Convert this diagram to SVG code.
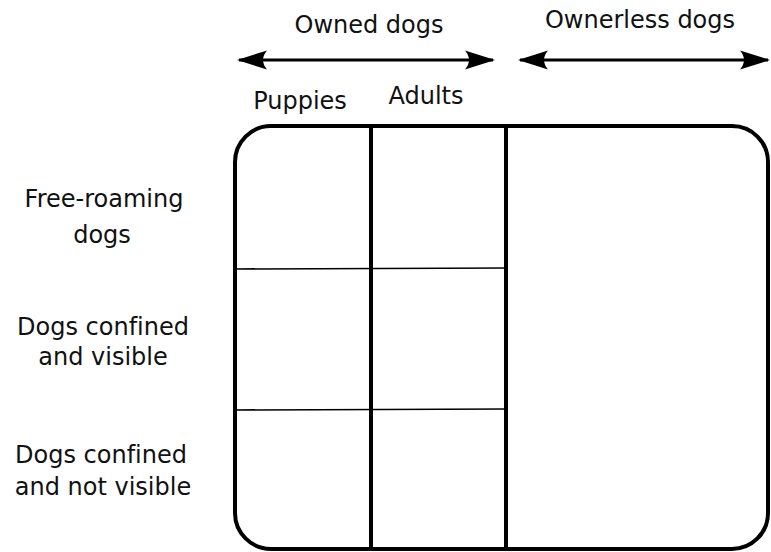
<svg xmlns="http://www.w3.org/2000/svg" width="771" height="552" viewBox="0 0 771 552">
  <style>
    text { font-family: "DejaVu Sans", Verdana, sans-serif; font-size: 24px; fill: #111; text-anchor: middle; font-variant-ligatures: none; }
    .frame { fill: none; stroke: #000; stroke-width: 4; }
    .col { stroke: #000; stroke-width: 4; }
    .row { stroke: #000; stroke-width: 1.6; }
    .span { stroke: #000; stroke-width: 3; fill: none; }
  </style>
  <defs>
    <marker id="head" viewBox="0 0 30 20" refX="28" refY="10" markerWidth="30" markerHeight="20" markerUnits="userSpaceOnUse" orient="auto-start-reverse">
      <path d="M30,10 L0,0.5 Q8,10 0,19.5 Z" fill="#000"/>
    </marker>
  </defs>

  <g id="connectors">
    <line class="span" x1="239" y1="60" x2="493" y2="60" marker-start="url(#head)" marker-end="url(#head)"/>
    <line class="span" x1="520" y1="60" x2="768" y2="60" marker-start="url(#head)" marker-end="url(#head)"/>
  </g>

  <g id="header-owned"><text x="369" y="33">Owned dogs</text></g>
  <g id="header-ownerless"><text x="640" y="28">Ownerless dogs</text></g>
  <g id="header-puppies"><text x="300" y="109">Puppies</text></g>
  <g id="header-adults"><text x="426" y="104">Adults</text></g>

  <g id="row-free"><text x="104" y="207">Free-roaming</text><text x="102" y="243">dogs</text></g>
  <g id="row-visible"><text x="103" y="335">Dogs confined</text><text x="103" y="365">and visible</text></g>
  <g id="row-hidden"><text x="101" y="463">Dogs confined</text><text x="103" y="495">and not visible</text></g>

  <g id="grid">
    <rect class="frame" x="235" y="126" width="533" height="423" rx="36" ry="36"/>
    <line class="col" x1="371" y1="126" x2="371" y2="549"/>
    <line class="col" x1="506" y1="126" x2="506" y2="549"/>
    <line class="row" x1="235" y1="269" x2="506" y2="268"/>
    <line class="row" x1="235" y1="410" x2="506" y2="409"/>
  </g>
</svg>
